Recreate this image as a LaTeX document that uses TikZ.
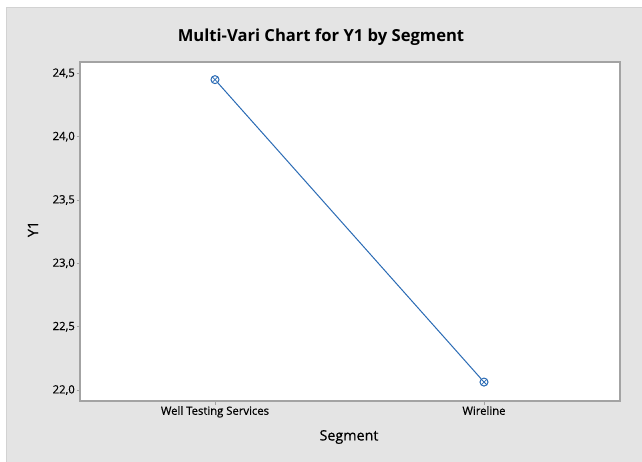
\documentclass[tikz,border=0pt]{standalone}
\usepackage{fontspec}
\setmainfont{Open Sans}
\newfontfamily\semifont[FakeBold=0.5]{Open Sans}
\begin{document}
\begin{tikzpicture}[x=1pt,y=-1pt,
  panel/.style={fill=bggray,draw=edgegray,line width=0.8pt},
  frame/.style={draw=framegray,line width=1.2pt,fill=white},
  tickmark/.style={draw=framegray,line width=0.6pt},
  ticklabel/.style={font=\semifont\fontsize{11.3}{13}\selectfont,text=black,inner sep=1pt},
  axistitle/.style={font=\semifont\fontsize{14.3}{16}\selectfont,text=black},
  marker/.style={circle,draw=serieblue,line width=1pt,minimum size=8pt,inner sep=0pt,
    path picture={\draw[serieblue,line width=0.8pt]
      (path picture bounding box.north west) -- (path picture bounding box.south east)
      (path picture bounding box.north east) -- (path picture bounding box.south west);}},
  series/.style={draw=serieblue,line width=1pt}]
\definecolor{bggray}{HTML}{E4E4E4}
\definecolor{edgegray}{HTML}{D2D2D2}
\definecolor{framegray}{HTML}{A3A3A3}
\definecolor{serieblue}{HTML}{2A6BB5}
% value-to-pixel map of the Y1 axis
\pgfmathsetmacro{\ytop}{73.3}
\pgfmathsetmacro{\yscale}{126.7}
\useasboundingbox (0,0) rectangle (642,462);
\fill[white] (0,0) rectangle (642,462);
\path[panel] (6,7) rectangle (645,465);
% plot region
\path[frame] (80,62) rectangle (620,401);
% y ticks and labels
\foreach \v/\t in {24.5/{24,5},24.0/{24,0},23.5/{23,5},23.0/{23,0},22.5/{22,5},22.0/{22,0}}{
  \pgfmathsetmacro{\yy}{\ytop+(24.5-\v)*\yscale}
  \draw[tickmark] (76.5,\yy) -- (80,\yy);
  \node[ticklabel,anchor=east] (ylab\v) at (76,\yy) {\t};
}
% x ticks and labels
\draw[tickmark] (215,401) -- (215,404.5);
\draw[tickmark] (484,401) -- (484,404.5);
\node[ticklabel,anchor=north] (xlabA) at (215,405) {Well Testing Services};
\node[ticklabel,anchor=north] (xlabB) at (484,405) {Wireline};
% titles
\node[font=\fontsize{16.6}{19}\selectfont\bfseries] (title) at (321,37) {Multi-Vari Chart for Y1 by Segment};
\node[axistitle] (xtitle) at (349,437) {Segment};
\node[axistitle,rotate=90] (ytitle) at (33,229) {Y1};
% data: segment means
\pgfmathsetmacro{\ya}{\ytop+(24.5-24.45)*\yscale}
\pgfmathsetmacro{\yb}{\ytop+(24.5-22.063)*\yscale}
\node[marker] (p1) at (215,\ya) {};
\node[marker] (p2) at (484,\yb) {};
\draw[series] (p1) -- (p2);
\end{tikzpicture}
\end{document}
